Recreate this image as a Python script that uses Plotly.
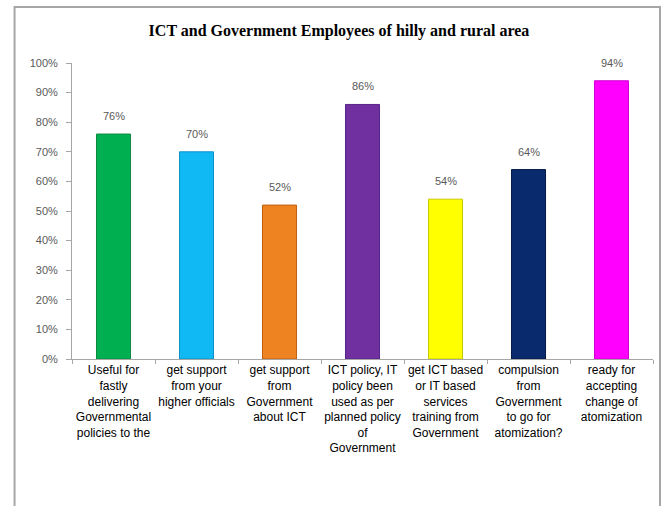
import plotly.graph_objects as go

categories = [
    "Useful for<br>fastly<br>delivering<br>Governmental<br>policies to the",
    "get support<br>from your<br>higher officials",
    "get support<br>from<br>Government<br>about ICT",
    "ICT policy, IT<br>policy been<br>used as per<br>planned policy<br>of<br>Government",
    "get ICT based<br>or IT based<br>services<br>training from<br>Government",
    "compulsion<br>from<br>Government<br>to go for<br>atomization?",
    "ready for<br>accepting<br>change of<br>atomization",
]
values = [76, 70, 52, 86, 54, 64, 94]
value_labels = ["76%", "70%", "52%", "86%", "54%", "64%", "94%"]
colors = ["#00B050", "#10B8F4", "#EE8322", "#7030A0", "#FFFF00", "#0A2A6E", "#FF00FF"]
outline = ["#0A8A3E", "#1090C8", "#C06010", "#582488", "#C8C800", "#061A48", "#D000D0"]
y_ticks = [0, 10, 20, 30, 40, 50, 60, 70, 80, 90, 100]
y_tick_labels = [f"{v}%" for v in y_ticks]

fig = go.Figure()
fig.add_trace(go.Bar(
    x=categories, y=values,
    marker=dict(color=colors, line=dict(color=outline, width=1)),
    width=0.41,
    hoverinfo="skip",
))

for c, v, t in zip(categories, values, value_labels):
    fig.add_annotation(x=c, y=v, text=t, showarrow=False, yanchor="bottom", yshift=10,
                       font=dict(family="Liberation Sans", size=11, color="#595959"))

# outer chart frame (pixel positions converted to paper coords)
fig.add_shape(type="rect", xref="paper", yref="paper",
              x0=(14 - 71.5) / 581.5, x1=(660 - 71.5) / 581.5,
              y0=-0.52, y1=(359 - 7) / 296,
              line=dict(color="#A6A6A6", width=2), layer="below")

fig.update_layout(
    width=664, height=506,
    margin=dict(l=71.5, r=11, t=63, b=147),
    paper_bgcolor="white", plot_bgcolor="white",
    showlegend=False,
    title=dict(text="<b>ICT and Government Employees of hilly and rural area</b>",
               x=339 / 664, xanchor="center", y=1 - 30 / 506, yanchor="middle",
               font=dict(family="Liberation Serif", size=16, color="black")),
    xaxis=dict(showline=True, linecolor="#A6A6A6", linewidth=1, ticks="outside", tickson="boundaries",
               ticklen=4, tickcolor="#A6A6A6", showgrid=False, tickangle=0,
               tickfont=dict(family="Liberation Sans", size=12, color="black")),
    yaxis=dict(range=[0, 100], tickvals=y_ticks, ticktext=y_tick_labels, showline=True,
               linecolor="#A6A6A6", linewidth=1, ticks="outside", ticklen=5, tickcolor="#A6A6A6",
               showgrid=False, zeroline=False, ticklabelstandoff=6,
               tickfont=dict(family="Liberation Sans", size=11, color="#595959")),
)

fig.write_html("out.html", config={"displayModeBar": False},
               post_script="document.body.style.margin='0';")
